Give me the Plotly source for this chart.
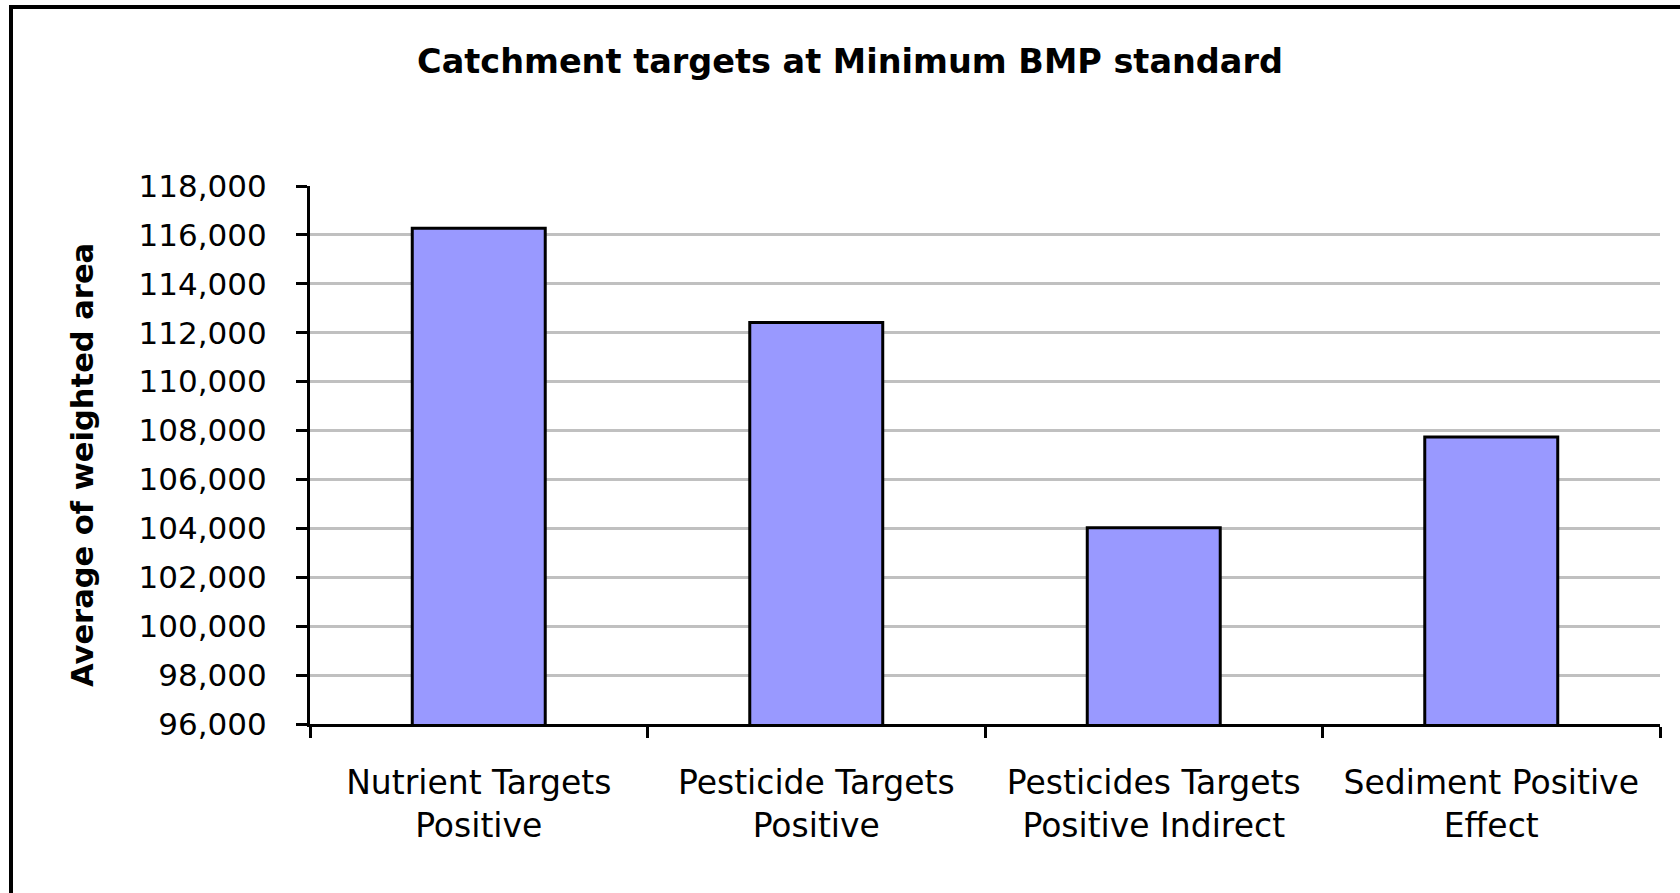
import plotly.graph_objects as go

categories = ["Nutrient Targets<br>Positive", "Pesticide Targets<br>Positive",
              "Pesticides Targets<br>Positive Indirect", "Sediment Positive<br>Effect"]
values = [116270, 112420, 104020, 107740]
y_min, y_max, y_step = 96000, 118000, 2000

W, H = 1680, 893
ml, mr, mt, mb = 310, 20, 186, 169
pw, ph = W - ml - mr, H - mt - mb

fig = go.Figure(go.Bar(
    x=categories, y=values,
    marker=dict(color="#9999FF", line=dict(color="black", width=3)),
))

# helpers: page pixel -> paper fraction
def px_x(p):
    return (p - ml) / pw
def px_y(p):
    return (H - mb - p) / ph

# outer frame (top and left edges only visible)
x_left, y_top = px_x(11), px_y(7)
x_right, y_bot = px_x(W + 5), px_y(H + 5)
fig.add_shape(type="path", xref="paper", yref="paper",
              path=f"M {x_left} {y_bot} L {x_left} {y_top} L {x_right} {y_top}",
              line=dict(color="black", width=4), layer="above")

# y-axis title
fig.add_annotation(text="Average of weighted area", xref="paper", yref="paper",
                   x=px_x(82), y=px_y(465), xanchor="center", yanchor="middle",
                   textangle=-90, showarrow=False,
                   font=dict(family="DejaVu Sans", size=30.5, weight="bold", color="black"))

fig.update_layout(
    width=W, height=H,
    margin=dict(l=ml, r=mr, t=mt, b=mb, pad=0),
    paper_bgcolor="white", plot_bgcolor="white",
    bargap=0.606,
    showlegend=False,
    font=dict(family="DejaVu Sans", color="black"),
    title=dict(text="Catchment targets at Minimum BMP standard",
               x=850 / W, xanchor="center", y=1 - 61 / H, yanchor="middle",
               font=dict(family="DejaVu Sans", size=33.5, weight="bold", color="black")),
)
fig.update_xaxes(
    showline=True, linecolor="black", linewidth=3,
    ticks="outside", ticklen=11, tickwidth=3, tickcolor="black",
    tickson="boundaries", showgrid=False,
    tickfont=dict(family="DejaVu Sans", size=33, color="black"),
    ticklabelstandoff=27,
)
fig.update_yaxes(
    range=[y_min, y_max], dtick=y_step, tick0=y_min, tickformat=",d",
    showline=True, linecolor="black", linewidth=3,
    ticks="outside", ticklen=11, tickwidth=3, tickcolor="black",
    showgrid=True, gridcolor="#C0C0C0", gridwidth=3,
    zeroline=False,
    tickfont=dict(family="DejaVu Sans", size=31, color="black"),
    ticklabelstandoff=23,
)

fig.write_html("out.html", config={"displayModeBar": False},
               post_script="document.body.style.margin='0';")
